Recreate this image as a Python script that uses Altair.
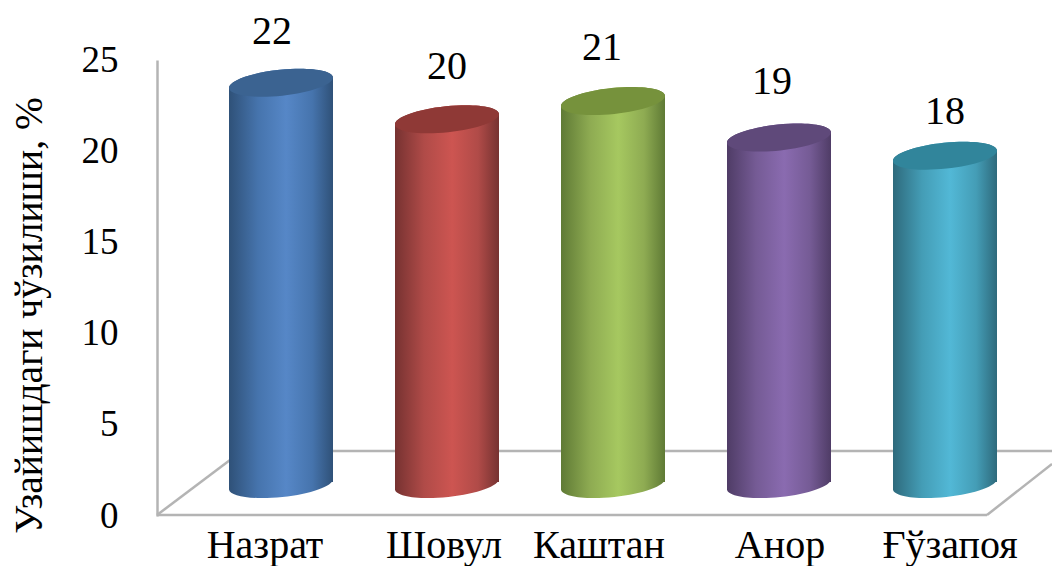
import altair as alt
import pandas as pd

categories = ["Назрат", "Шовул", "Каштан", "Анор", "Ғўзапоя"]
values = [22, 20, 21, 19, 18]
y_ticks = [0, 5, 10, 15, 20, 25]
y_title = "Узайишдаги чўзилиши, %"

edge_colors = ["#2f5178", "#763231", "#5f7a35", "#4f3c66", "#2e6a7c"]
side_colors = ["#4674ad", "#b04b48", "#8eab52", "#755b95", "#449db6"]
light_colors = ["#5687c7", "#cd5551", "#a6c860", "#8a6bb0", "#52b8d6"]
cap_colors = ["#3b6391", "#8f3936", "#76923c", "#5f497a", "#31859b"]

value_label_dx = [-9, 0, -11, -7, 0]
value_label_y = [-30, -31, -32, -34, -23]
cat_label_dx = [-16, -3, -14, 1, 5]

FONT = "Liberation Serif"
GRID = "#b4b4b4"
PX = [124, 788]
CYL = 104
BASE = -32

df = pd.DataFrame({"cat": categories, "value": values})

x = alt.X("cat:N", sort=categories, axis=None,
          scale=alt.Scale(type="point", domain=categories, range=PX, padding=0))
yscale = alt.Scale(domain=[0, 25], nice=False, zero=True)
y_axis = alt.Axis(
    values=y_ticks, title=y_title, grid=False, ticks=False,
    domain=True, domainColor=GRID, domainWidth=2.5,
    labelFont=FONT, labelFontSize=37, labelColor="black", labelPadding=39,
    titleFont=FONT, titleFontSize=39.5, titleFontWeight="normal", titleColor="black",
    titleX=-128, titleY=255, titleAngle=-90, titleAlign="center", titleBaseline="middle",
)
y_plain = alt.Y("value:Q", scale=yscale, axis=y_axis)

ELLIPSE = "M-1,0.105 A1.005,0.25 -6 1 1 1,-0.105 A1.005,0.25 -6 1 1 -1,0.105 Z"
FOOT = "M-1,-0.3 L1,-0.3 L1,-0.105 A1.005,0.25 -6 0 1 -1,0.105 Z"
SHOULDER = "M1,-0.105 L1,0.4 L-1,0.4 L-1,0.105 A1.005,0.25 -6 0 1 1,-0.105 Z"
SIZE = CYL ** 2


def gradient(i):
    return {
        "gradient": "linear", "x1": 0, "y1": 0, "x2": 1, "y2": 0,
        "stops": [
            {"offset": 0, "color": edge_colors[i]},
            {"offset": 0.28, "color": side_colors[i]},
            {"offset": 0.55, "color": light_colors[i]},
            {"offset": 0.8, "color": side_colors[i]},
            {"offset": 1, "color": edge_colors[i]},
        ],
    }


def floor_line(x1, y1, x2, y2):
    return alt.Chart(df.head(1)).mark_rule(color=GRID, strokeWidth=2.5).encode(
        x=alt.value(x1), x2=alt.value(x2), y=alt.value(y1), y2=alt.value(y2)
    )


layers = [
    floor_line(0, 455, 830, 455),
    floor_line(0, 455, 85, 391),
    floor_line(75, 391, 895, 391),
    floor_line(830, 455, 895, 404),
]

for i, cat in enumerate(categories):
    d = df[df.cat == cat]
    base = alt.Chart(d)
    g = gradient(i)
    layers += [
        base.mark_point(shape=FOOT, size=SIZE, filled=True, color=g, opacity=1, strokeWidth=0,
                        yOffset=BASE).encode(x=x, y=alt.Y(datum=0, scale=yscale, axis=y_axis)),
        base.mark_bar(width=CYL, color=g, yOffset=BASE + 14, y2Offset=BASE - 2).encode(
            x=x, y=y_plain, y2=alt.Y2(datum=0)),
        base.mark_point(shape=SHOULDER, size=SIZE, filled=True, color=g, opacity=1, strokeWidth=0,
                        yOffset=BASE).encode(x=x, y=y_plain),
        base.mark_point(shape=ELLIPSE, size=SIZE, filled=True, color=cap_colors[i], opacity=1,
                        strokeWidth=0, yOffset=BASE).encode(x=x, y=y_plain),
        base.mark_text(font=FONT, fontSize=40, color="black", dx=value_label_dx[i],
                       dy=BASE + value_label_y[i] - 21).encode(
            x=x, y=y_plain, text=alt.Text("value:Q")),
        base.mark_text(font=FONT, fontSize=40, color="black", baseline="alphabetic",
                       dx=cat_label_dx[i]).encode(
            x=x, y=alt.value(498), text=alt.Text("cat:N")),
    ]

chart = alt.layer(*layers).properties(
    width=895, height=456,
    padding={"left": 149, "top": 52, "right": 0, "bottom": 50},
    autosize=alt.AutoSizeParams(type="none"),
    background="white",
).configure_view(stroke=None)

chart.save("out.html", embed_options={"renderer": "svg", "actions": False})
